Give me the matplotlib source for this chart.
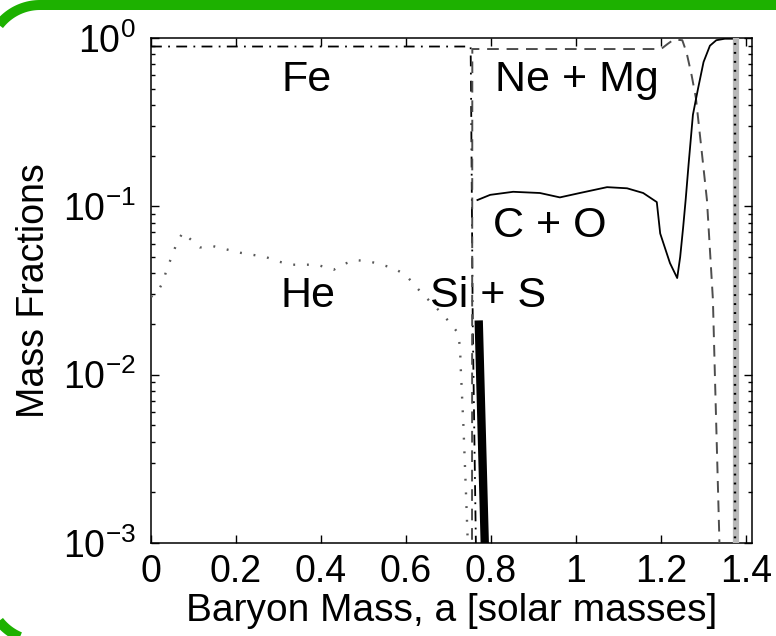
import numpy as np
import matplotlib
matplotlib.use("Agg")
import matplotlib.pyplot as plt
from matplotlib.lines import Line2D
from matplotlib.transforms import IdentityTransform

plt.rcParams["font.family"] = ["Liberation Sans", "DejaVu Sans"]
plt.rcParams["mathtext.default"] = "regular"

# ---------------------------------------------------------------------------
# Datos (fracciones de masa vs masa barionica)
# ---------------------------------------------------------------------------
fe_x = [0.0, 0.2, 0.4, 0.6, 0.752, 0.753, 0.757, 0.770]
fe_y = [0.89, 0.89, 0.89, 0.89, 0.89, 0.5, 0.02, 1e-4]

nemg_x = [0.755, 0.756, 0.78, 0.9, 1.0, 1.1, 1.2, 1.215, 1.23, 1.25,
          1.26, 1.272, 1.282, 1.295, 1.308, 1.322, 1.327, 1.337, 1.345]
nemg_y = [1e-4, 0.86, 0.86, 0.86, 0.86, 0.86, 0.86, 0.92, 0.98, 0.97,
          0.82, 0.6, 0.44, 0.22, 0.109, 0.028, 0.0093, 0.0011, 1e-4]

co_x = [0.768, 0.798, 0.852, 0.915, 0.962, 1.009, 1.073, 1.12, 1.158,
        1.19, 1.198, 1.221, 1.238, 1.245, 1.252, 1.258, 1.265, 1.275,
        1.287, 1.30, 1.315, 1.33, 1.35, 1.376, 1.3765]
co_y = [0.109, 0.117, 0.122, 0.12, 0.113, 0.12, 0.13, 0.128, 0.12,
        0.106, 0.069, 0.046, 0.0375, 0.05, 0.075, 0.11, 0.18, 0.35,
        0.5, 0.72, 0.9, 0.97, 0.99, 0.99, 1e-4]

he_x = [0.0, 0.014, 0.028, 0.038, 0.05, 0.061, 0.075, 0.092, 0.115,
        0.146, 0.21, 0.27, 0.30, 0.33, 0.39, 0.43, 0.45, 0.48, 0.515,
        0.57, 0.60, 0.62, 0.64, 0.685, 0.708, 0.722, 0.727, 0.729,
        0.735, 0.741, 0.746]
he_y = [0.029, 0.0305, 0.0355, 0.043, 0.051, 0.061, 0.070, 0.064, 0.057,
        0.058, 0.053, 0.050, 0.047, 0.045, 0.045, 0.042, 0.045, 0.048,
        0.047, 0.043, 0.039, 0.034, 0.030, 0.023, 0.0197, 0.0177, 0.0146,
        0.0106, 0.005, 0.002, 0.0009]
he_env_x = [1.374, 1.374]
he_env_y = [1e-4, 1.0]

sis_x = [0.771, 0.786]
sis_y = [0.021, 0.00085]

band_x = [1.377, 1.377]
band_y = [1e-4, 1.0]

labels = ["Fe", "Ne + Mg", "C + O", "He", "Si + S"]
label_x = [0.365, 1.002, 0.939, 0.369, 0.793]
label_y = [0.56, 0.56, 0.076, 0.0293, 0.0293]

xticks = [0, 0.2, 0.4, 0.6, 0.8, 1.0, 1.2, 1.4]
xticklabels = ["0", "0.2", "0.4", "0.6", "0.8", "1", "1.2", "1.4"]

# ---------------------------------------------------------------------------
W, H = 776, 636
fig = plt.figure(figsize=(W / 100, H / 100), dpi=100)
fig.patch.set_facecolor("white")
ax = fig.add_axes([151 / W, 1 - 543 / H, 601 / W, 505 / H])

ax.plot(fe_x, fe_y, color="black", lw=1.3, ls=(0, (6, 3.5, 1, 3.5)), zorder=3)
ax.plot(nemg_x, nemg_y, color="0.3", lw=1.4, ls=(0, (6, 4)), zorder=3)
ax.plot(co_x, co_y, color="black", lw=1.3, zorder=4)
ax.plot(band_x, band_y, color="0.72", lw=4.5, solid_capstyle="butt", zorder=4.5)
ax.plot(he_x, he_y, color="0.35", lw=1.7, ls=(0, (0.8, 5)), zorder=3)
ax.plot(he_env_x, he_env_y, color="black", lw=1.7, ls=(0, (0.8, 3)), zorder=5)
ax.plot(sis_x, sis_y, color="black", lw=6, solid_capstyle="butt", zorder=5)

for t, x, y in zip(labels, label_x, label_y):
    ax.text(x, y, t, fontsize=31, ha="center", va="center", zorder=6)

ax.set_yscale("log")
ax.set_xlim(0, 1.414)
ax.set_ylim(1e-3, 1)
ax.set_xticks(xticks)
ax.set_xticklabels(xticklabels)
ax.tick_params(which="both", direction="in", top=True, right=True,
               labelsize=27, width=1.0)
ax.tick_params(which="major", length=6, pad=8)
ax.tick_params(axis="y", which="major", pad=11)
ax.tick_params(which="minor", length=3)
ax.tick_params(axis="x", which="minor", bottom=False, top=False)
for s in ax.spines.values():
    s.set_linewidth(1.1)

ax.set_xlabel("Baryon Mass, a [solar masses]", fontsize=28, labelpad=2)
ax.set_ylabel("Mass Fractions", fontsize=27, labelpad=8)

# marco verde redondeado (en pixeles, solo las partes visibles)
R, cx, top, bot = 52, 40, H - 5, -5
t1 = np.linspace(np.pi / 2, np.pi, 60)
fx = np.concatenate([[W + 20], cx + R * np.cos(t1)])
fy = np.concatenate([[top], top - R + R * np.sin(t1)])
t2 = np.linspace(np.pi, 1.5 * np.pi, 60)
gx = np.concatenate([cx + R * np.cos(t2), [W + 20]])
gy = np.concatenate([bot + R + R * np.sin(t2), [bot]])
for xs, ys in [(fx, fy), (gx, gy)]:
    fig.add_artist(Line2D(xs, ys, transform=IdentityTransform(),
                          color="#1db100", lw=7.2, solid_capstyle="butt", zorder=10))

fig.savefig("out.png", dpi=100, facecolor="white")
